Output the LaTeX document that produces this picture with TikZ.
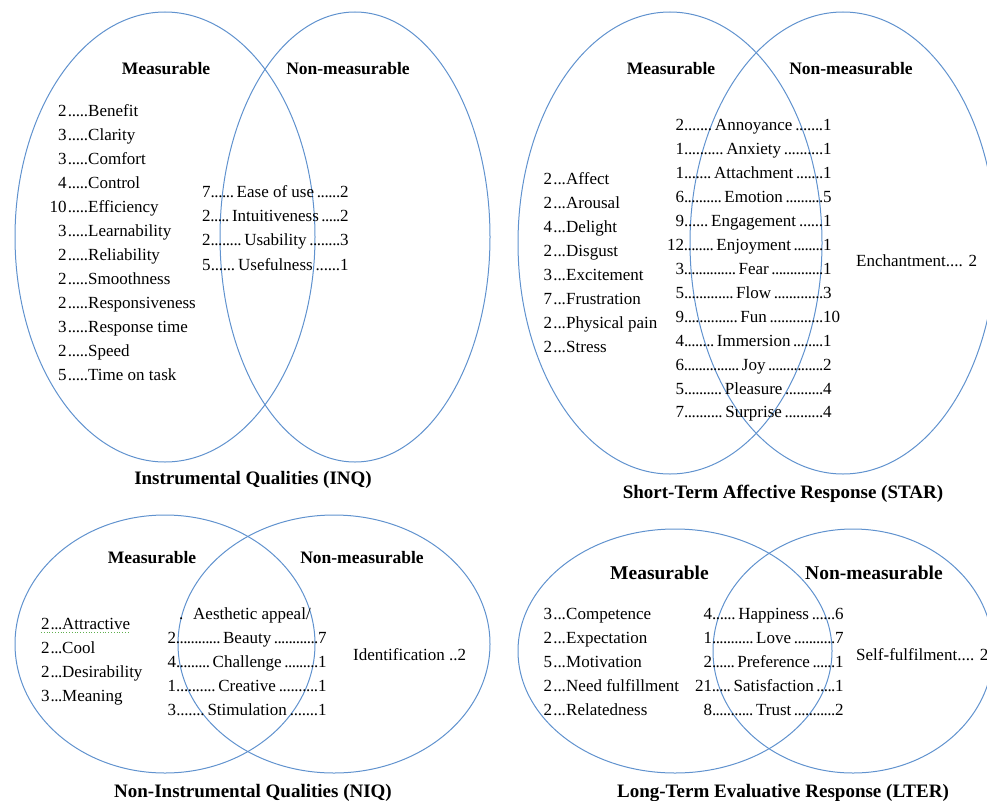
\documentclass[tikz,border=0pt]{standalone}
\usepackage{fontspec}
\setmainfont{Liberation Serif}
\definecolor{vennblue}{RGB}{96,146,206}
\definecolor{spellgreen}{RGB}{96,176,80}

% tight dot leaders between counts and labels
\newcommand\dotsfill{\xleaders\hbox to 3.6pt{\hss.\hss}\hfill}
% side item: count ending at x, dots of fixed width, then label
\newcommand\sideitem[6]{%
  \node[item] (#1) at (#2,#3) {\llap{#4}\hbox to #6pt{\kern1pt\dotsfill}#5};}
% shared item: left count, centred label in dots, right count
\newcommand\shareditem[7]{%
  \node[item] (#1) at (#2,#3) {\llap{#4}\hbox to #7pt{\dotsfill\,#5\,\dotsfill}#6};}

\begin{document}
\begin{tikzpicture}[x=1pt,y=-1pt,
  venn/.style={draw=vennblue,line width=1pt},
  head/.style={font=\bfseries\fontsize{17.5}{20}\selectfont,inner sep=0pt},
  bighead/.style={font=\bfseries\fontsize{19.5}{22}\selectfont,inner sep=0pt},
  title/.style={font=\bfseries\fontsize{19}{22}\selectfont,inner sep=0pt,anchor=base},
  item/.style={font=\fontsize{17}{20}\selectfont,inner sep=0pt,anchor=base west},
]
\useasboundingbox (0,0) rectangle (987,800);

% ---------- Instrumental Qualities ----------
\draw[venn] (165,237) ellipse [x radius=150,y radius=225];
\draw[venn] (355,237) ellipse [x radius=135,y radius=225];
\node[head] (inq-meas) at (166,69) {Measurable};
\node[head] (inq-non) at (348,69) {Non-measurable};
\sideitem{inq-m1}{66.5}{116}{2}{Benefit}{21.5}
\sideitem{inq-m2}{66.5}{140}{3}{Clarity}{21.5}
\sideitem{inq-m3}{66.5}{164}{3}{Comfort}{21.5}
\sideitem{inq-m4}{66.5}{188}{4}{Control}{21.5}
\sideitem{inq-m5}{66.5}{212}{10}{Efficiency}{21.5}
\sideitem{inq-m6}{66.5}{236}{3}{Learnability}{21.5}
\sideitem{inq-m7}{66.5}{260}{2}{Reliability}{21.5}
\sideitem{inq-m8}{66.5}{284}{2}{Smoothness}{21.5}
\sideitem{inq-m9}{66.5}{308}{2}{Responsiveness}{21.5}
\sideitem{inq-m10}{66.5}{332}{3}{Response time}{21.5}
\sideitem{inq-m11}{66.5}{356}{2}{Speed}{21.5}
\sideitem{inq-m12}{66.5}{380}{5}{Time on task}{21.5}
\shareditem{inq-b1}{210.5}{197}{7}{Ease of use}{2}{129.5}
\shareditem{inq-b2}{210.5}{221}{2}{Intuitiveness}{2}{129.5}
\shareditem{inq-b3}{210.5}{245}{2}{Usability}{3}{129.5}
\shareditem{inq-b4}{210.5}{270}{5}{Usefulness}{1}{129.5}
\node[title] (inq-title) at (253,484.5) {Instrumental Qualities (INQ)};

% ---------- Short-Term Affective Response ----------
\draw[venn] (670,243) ellipse [x radius=152,y radius=231];
\draw[venn] (843,243) ellipse [x radius=153,y radius=231];
\node[head] (star-meas) at (671,69) {Measurable};
\node[head] (star-non) at (851,69) {Non-measurable};
\sideitem{star-m1}{552}{184}{2}{Affect}{14}
\sideitem{star-m2}{552}{208}{2}{Arousal}{14}
\sideitem{star-m3}{552}{232}{4}{Delight}{14}
\sideitem{star-m4}{552}{256}{2}{Disgust}{14}
\sideitem{star-m5}{552}{280}{3}{Excitement}{14}
\sideitem{star-m6}{552}{304}{7}{Frustration}{14}
\sideitem{star-m7}{552}{328}{2}{Physical pain}{14}
\sideitem{star-m8}{552}{352}{2}{Stress}{14}
\shareditem{star-b1}{684}{130}{2}{Annoyance}{1}{139}
\shareditem{star-b2}{684}{154}{1}{Anxiety}{1}{139}
\shareditem{star-b3}{684}{178}{1}{Attachment}{1}{139}
\shareditem{star-b4}{684}{202}{6}{Emotion}{5}{139}
\shareditem{star-b5}{684}{226}{9}{Engagement}{1}{139}
\shareditem{star-b6}{684}{250}{12}{Enjoyment}{1}{139}
\shareditem{star-b7}{684}{274}{3}{Fear}{1}{139}
\shareditem{star-b8}{684}{298}{5}{Flow}{3}{139}
\shareditem{star-b9}{684}{322}{9}{Fun}{10}{139}
\shareditem{star-b10}{684}{346}{4}{Immersion}{1}{139}
\shareditem{star-b11}{684}{370}{6}{Joy}{2}{139}
\shareditem{star-b12}{684}{394}{5}{Pleasure}{4}{139}
\shareditem{star-b13}{684}{417}{7}{Surprise}{4}{139}
\node[item] (star-n1) at (856,266) {Enchantment.... 2};
\node[title] (star-title) at (783,498.5) {Short-Term Affective Response (STAR)};

% ---------- Non-Instrumental Qualities ----------
\draw[venn] (165,644) ellipse [x radius=150,y radius=129];
\draw[venn] (334,644) ellipse [x radius=156,y radius=129];
\node[head] (niq-meas) at (152,558) {Measurable};
\node[head] (niq-non) at (362,558) {Non-measurable};
\sideitem{niq-m1}{49.5}{629}{2}{Attractive}{12.5}
\sideitem{niq-m2}{49.5}{653}{2}{Cool}{12.5}
\sideitem{niq-m3}{49.5}{677}{2}{Desirability}{12.5}
\sideitem{niq-m4}{49.5}{701}{3}{Meaning}{12.5}
\draw[spellgreen,line width=0.8pt,dotted]
  ([xshift=-8.5pt,yshift=-3pt]niq-m1.base west) -- ([yshift=-3pt]niq-m1.base east);
\node[item] (niq-b0) at (179,619) {\hbox to 14pt{.\hfil}Aesthetic appeal/};
\shareditem{niq-b1}{176}{643}{2}{Beauty}{7}{142}
\shareditem{niq-b2}{176}{667}{4}{Challenge}{1}{142}
\shareditem{niq-b3}{176}{691}{1}{Creative}{1}{142}
\shareditem{niq-b4}{176}{715}{3}{Stimulation}{1}{142}
\node[item] (niq-n1) at (353,660) {Identification ..2};
\node[title] (niq-title) at (253,797.5) {Non-Instrumental Qualities (NIQ)};

% ---------- Long-Term Evaluative Response ----------
\draw[venn] (675,651) ellipse [x radius=157,y radius=122];
\draw[venn] (853,651) ellipse [x radius=140,y radius=122];
\node[bighead] (lter-meas) at (659.5,573) {Measurable};
\node[bighead] (lter-non) at (874,573) {Non-measurable};
\sideitem{lter-m1}{552}{619}{3}{Competence}{14}
\sideitem{lter-m2}{552}{643}{2}{Expectation}{14}
\sideitem{lter-m3}{552}{667}{5}{Motivation}{14}
\sideitem{lter-m4}{552}{691}{2}{Need fulfillment}{14}
\sideitem{lter-m5}{552}{715}{2}{Relatedness}{14}
\shareditem{lter-b1}{712}{619}{4}{Happiness}{6}{123}
\shareditem{lter-b2}{712}{643}{1}{Love}{7}{123}
\shareditem{lter-b3}{712}{667}{2}{Preference}{1}{123}
\shareditem{lter-b4}{712}{691}{21}{Satisfaction}{1}{123}
\shareditem{lter-b5}{712}{715}{8}{Trust}{2}{123}
\node[item] (lter-n1) at (856,660) {Self-fulfilment.... 2};
\node[title] (lter-title) at (783,797.5) {Long-Term Evaluative Response (LTER)};
\end{tikzpicture}
\end{document}
